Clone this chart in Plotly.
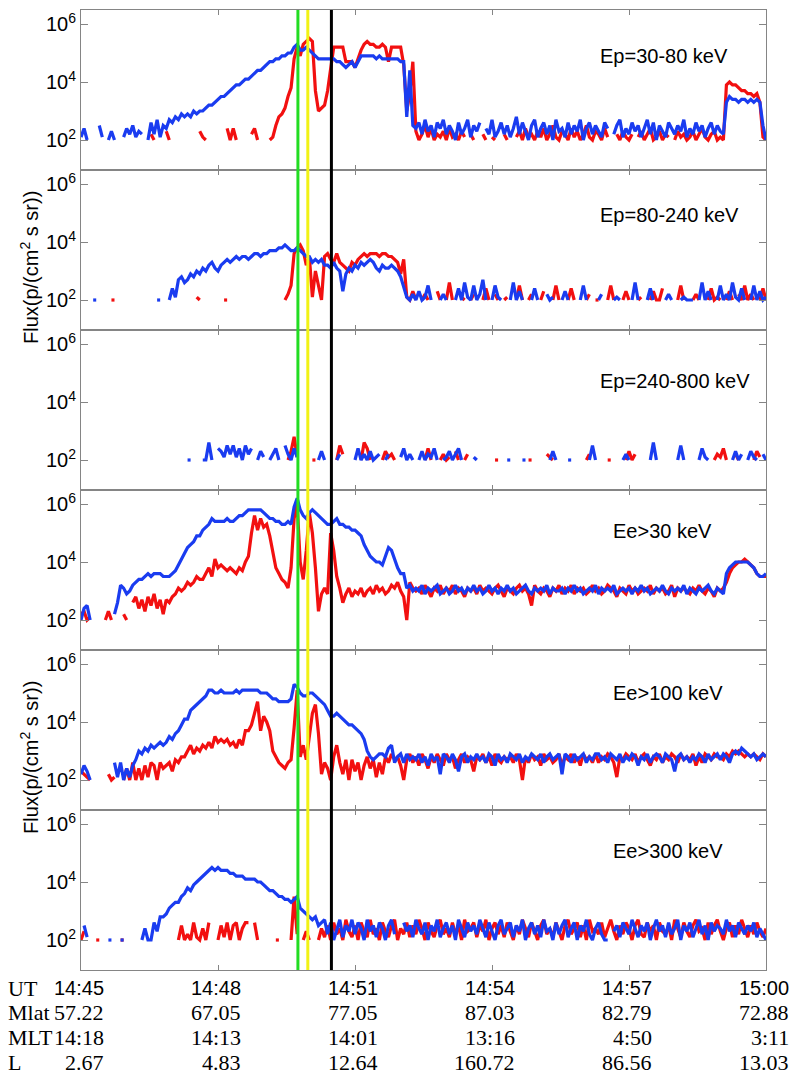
import plotly.graph_objects as go
from plotly.subplots import make_subplots

# ---------------- data (log10 flux in tenths of a decade, 0 = no data) ----------------
# sampling cadence: 4 s from 14:45:00 to 15:00:00
cadence_s = 4

ep1_red = [
 0,0,0,0,0,0,0,0,0,0,
 0,0,0,0,0,0,0,0,0,0,
 0,0,0,22,20,0,0,0,23,20,
 0,0,0,0,0,0,0,0,0,23,
 21,20,0,0,0,0,0,0,24,20,
 24,20,0,0,0,0,22,24,20,0,
 0,0,20,21,25,28,29,31,35,38,
 48,52,49,53,54,55,54,37,30,31,
 32,37,45,52,52,52,52,47,47,47,
 45,48,51,53,54,53,53,52,52,53,
 52,47,52,52,52,52,46,30,36,47,
 23,20,22,25,21,24,20,22,21,23,
 20,24,21,22,20,23,21,0,22,20,
 0,0,22,20,0,21,20,0,0,22,
 20,0,0,21,23,20,24,21,22,20,
 23,21,24,20,22,25,21,20,23,22,
 20,24,21,23,20,22,25,21,20,23,
 22,20,24,21,0,0,22,20,23,21,
 20,22,0,21,23,20,22,24,20,21,
 23,20,22,21,0,20,23,21,22,20,
 21,23,20,22,24,21,20,22,23,20,
 21,20,39,40,39,39,38,37,37,36,
 36,35,36,33,21,20]

ep1_blue = [
 21,24,20,0,0,0,25,21,0,20,
 23,20,0,0,21,24,22,25,21,23,
 22,0,20,26,22,27,21,25,24,27,
 26,28,27,29,28,29,28,30,29,30,
 30,31,32,32,33,34,35,35,36,37,
 38,39,39,40,41,41,42,43,44,44,
 45,46,47,47,48,48,49,49,50,50,
 52,53,51,51,52,51,50,49,48,48,
 48,48,48,48,47,47,46,45,46,47,
 45,47,49,49,49,49,49,48,49,48,
 48,48,48,48,48,47,47,28,44,25,
 24,26,22,27,23,25,21,26,24,27,
 22,25,23,20,26,22,24,27,21,25,
 23,26,0,24,22,27,21,23,26,22,
 25,21,24,28,22,26,23,20,25,27,
 21,24,26,22,25,20,27,23,24,21,
 26,22,25,23,27,20,24,26,22,25,
 23,21,26,24,0,22,25,27,21,24,
 22,26,23,25,21,24,27,22,26,20,
 25,23,21,26,24,22,25,23,27,21,
 24,22,26,23,25,21,24,26,22,25,
 23,22,33,35,34,34,33,34,34,33,
 34,33,34,33,25,20]

ep2_red = [
 0,0,0,0,0,0,0,0,0,0,
 20,20,0,0,0,0,0,0,0,0,
 0,0,0,0,0,0,0,0,0,0,
 0,0,0,0,0,0,0,0,21,20,
 0,0,0,0,0,0,0,20,20,0,
 0,0,0,0,0,0,0,0,0,0,
 0,0,0,0,0,0,0,20,22,25,
 36,38,39,37,32,35,21,30,25,20,
 35,36,34,33,36,33,32,31,30,33,
 32,34,35,36,35,36,36,36,35,36,
 36,35,35,34,33,29,34,21,20,23,
 20,0,20,22,20,0,0,23,20,0,
 20,26,20,0,0,21,20,0,20,22,
 0,0,20,24,20,0,22,20,0,20,
 21,0,0,20,25,20,0,20,22,0,
 0,20,23,0,0,20,25,20,0,0,
 20,24,20,0,0,0,20,22,0,20,
 20,0,0,20,25,20,0,0,20,23,
 20,0,0,20,21,0,0,20,23,20,
 20,24,0,0,20,0,20,25,20,0,
 0,20,22,20,0,0,20,24,20,21,
 20,0,20,23,20,0,22,20,25,20,
 22,20,0,20,24,20]

ep2_blue = [
 0,0,0,0,20,20,0,0,0,0,
 0,0,0,0,0,0,0,0,0,0,
 0,0,0,0,0,20,20,0,0,20,
 24,21,27,28,26,27,29,28,30,29,
 31,30,32,33,31,30,32,33,34,33,
 34,35,34,35,35,34,35,36,36,35,
 36,36,37,37,37,38,38,39,38,37,
 37,38,37,36,35,35,33,34,33,34,
 32,32,31,33,31,30,23,29,31,30,
 32,31,33,32,33,34,33,31,30,32,
 31,31,32,31,30,28,24,21,20,22,
 20,23,20,21,25,20,0,0,20,22,
 20,0,0,20,24,20,26,21,20,25,
 20,22,27,20,0,20,25,21,20,0,
 0,20,26,20,23,20,0,0,20,24,
 20,0,0,22,20,21,0,0,20,23,
 20,0,0,0,20,25,20,0,0,0,
 20,22,0,0,0,20,21,20,0,0,
 0,20,26,20,0,0,20,24,20,0,
 0,0,20,22,20,0,0,20,21,20,
 20,20,0,20,26,20,23,20,0,20,
 25,20,22,20,26,21,20,24,20,0,
 20,25,20,23,20,21]

ep3_red = [
 0,0,0,0,0,0,0,0,0,0,
 0,0,0,0,0,0,0,0,0,0,
 0,0,0,0,0,0,0,0,0,0,
 0,0,0,0,0,0,0,0,0,0,
 0,0,0,0,0,0,0,0,0,0,
 0,0,0,0,0,0,0,0,0,0,
 0,0,0,0,0,0,0,0,20,23,
 28,21,0,0,0,0,20,20,0,0,
 0,0,0,0,20,25,22,0,0,0,
 0,0,20,26,24,20,0,0,0,20,
 23,21,22,20,0,0,0,0,0,0,
 0,0,0,20,24,20,0,0,20,22,
 20,21,0,23,20,0,20,22,0,0,
 0,0,0,0,0,0,20,20,0,0,
 0,0,0,0,0,0,0,20,20,0,
 0,0,0,22,21,20,0,0,0,0,
 0,0,0,0,0,0,20,22,0,0,
 0,0,0,20,20,0,0,0,0,20,
 23,20,22,0,0,0,0,0,0,0,
 0,0,0,0,0,0,0,0,0,0,
 0,0,0,0,0,0,0,0,20,22,
 21,24,20,0,0,22,20,0,0,0,
 0,20,23,21,0,0]

ep3_blue = [
 0,0,0,0,0,0,0,0,0,0,
 0,0,0,0,0,0,0,0,0,0,
 0,0,0,0,0,0,0,0,0,0,
 0,0,0,0,0,20,20,0,0,0,
 20,20,26,20,0,24,23,21,25,22,
 25,21,24,20,25,22,24,0,20,23,
 21,0,20,22,24,20,0,25,22,20,
 24,21,0,0,20,0,0,0,20,23,
 20,0,0,0,20,22,0,0,0,0,
 20,24,20,22,20,23,20,21,22,0,
 20,22,0,0,0,21,24,20,22,20,
 0,20,23,20,22,21,24,20,0,20,
 21,23,20,22,24,20,0,0,0,21,
 20,0,0,0,20,0,0,0,0,0,
 20,20,0,0,0,20,20,0,0,0,
 0,0,0,0,20,23,20,0,0,0,
 20,20,0,0,0,0,0,20,25,20,
 0,0,0,0,0,0,0,0,20,22,
 20,0,0,0,0,0,0,20,26,20,
 0,0,0,0,0,0,20,25,20,0,
 0,0,0,20,24,21,20,0,0,0,
 0,0,0,0,20,23,20,22,0,20,
 23,21,20,0,22,20]

ee30_red = [
 22,23,20,21,0,0,0,0,20,23,
 20,0,0,0,22,20,0,26,28,24,
 27,23,28,25,29,24,27,22,27,26,
 28,29,31,30,31,33,32,33,35,34,
 34,36,38,35,41,38,39,38,37,38,
 37,36,38,37,40,42,50,56,51,55,
 52,53,49,44,38,36,34,33,31,38,
 55,60,40,34,44,57,50,38,23,29,
 31,29,50,44,35,31,26,29,31,28,
 30,29,31,28,30,31,29,32,30,31,
 29,30,32,31,33,30,28,20,33,31,
 30,31,29,32,30,28,31,30,32,29,
 31,30,32,29,31,30,28,31,30,31,
 29,32,30,31,30,29,31,32,30,28,
 31,30,29,31,32,30,31,29,25,32,
 30,29,31,30,28,31,30,32,29,31,
 30,32,29,31,30,31,29,30,32,30,
 31,29,30,32,31,30,28,31,30,29,
 32,30,31,29,30,31,30,32,29,31,
 30,31,29,30,32,28,31,30,31,30,
 29,31,30,32,30,29,31,30,28,31,
 30,31,33,36,38,39,40,40,41,40,
 39,38,36,35,35,35]

ee30_blue = [
 20,24,25,20,0,0,0,0,0,0,
 0,22,26,32,31,29,30,32,33,34,
 34,35,36,35,36,36,36,35,35,35,
 36,37,39,41,43,45,46,47,49,49,
 51,52,53,55,54,54,54,54,55,54,
 54,55,56,56,57,58,58,58,58,58,
 57,56,55,55,54,54,53,53,54,53,
 59,62,58,56,55,57,58,57,56,55,
 54,53,53,54,55,53,53,52,52,51,
 51,50,49,46,44,42,41,40,40,39,
 42,45,44,41,38,36,36,31,32,30,
 31,30,32,29,31,30,31,32,29,30,
 31,29,30,32,30,31,29,31,30,32,
 30,31,29,30,32,30,31,29,31,30,
 32,30,31,29,30,31,32,30,29,31,
 30,31,30,32,29,31,30,30,31,29,
 31,30,32,30,31,29,30,31,30,32,
 29,31,30,31,30,32,29,30,31,30,
 31,29,31,30,32,30,31,29,30,31,
 30,32,30,29,31,30,31,30,32,29,
 31,30,29,31,30,31,32,30,29,31,
 30,29,36,38,39,40,40,40,40,40,
 39,38,36,35,35,36]

ee100_red = [
 23,22,21,20,0,0,0,0,0,22,
 20,21,0,0,20,24,20,26,20,24,
 20,25,21,26,25,20,26,24,25,26,
 23,27,26,28,28,30,32,29,31,30,
 32,31,33,31,35,33,34,33,34,32,
 33,31,34,32,37,37,39,43,47,37,
 42,40,37,30,28,26,25,24,26,27,
 38,51,28,32,27,36,43,46,36,22,
 26,24,20,28,32,26,22,27,20,27,
 23,26,20,25,28,24,27,21,26,22,
 28,26,29,27,28,25,20,27,29,26,
 28,25,29,27,24,28,26,29,27,25,
 29,27,28,24,27,29,26,28,27,23,
 28,27,29,26,28,25,29,27,26,28,
 27,28,26,29,27,20,28,26,29,27,
 28,25,29,27,28,26,27,29,25,28,
 27,29,26,28,25,29,27,28,26,29,
 26,28,27,29,28,26,21,28,27,29,
 28,27,29,26,28,29,27,25,28,27,
 29,26,28,27,29,28,26,29,27,28,
 27,29,25,28,26,29,28,27,29,28,
 28,27,29,28,30,29,30,29,28,29,
 28,29,28,27,29,28]

ee100_blue = [
 22,25,23,20,0,0,0,0,0,0,
 0,26,21,26,20,24,21,25,27,30,
 29,31,30,32,31,32,33,32,33,35,
 34,36,37,39,41,41,44,45,46,47,
 48,49,51,51,50,50,51,50,50,50,
 50,51,50,51,51,51,51,51,51,50,
 50,50,49,48,48,47,47,47,47,48,
 53,52,50,49,49,50,50,49,48,47,
 46,44,42,42,43,42,41,40,39,39,
 38,37,36,34,30,28,27,28,29,29,
 28,31,32,26,28,29,26,29,27,28,
 27,29,26,28,25,29,27,28,22,29,
 28,26,29,27,23,28,29,26,28,27,
 29,27,28,26,29,28,25,29,27,28,
 26,29,28,27,29,26,28,27,29,28,
 27,29,26,28,29,27,28,29,22,29,
 28,26,29,27,28,29,26,28,27,29,
 29,27,28,26,29,28,27,29,26,28,
 27,29,28,25,28,27,29,26,28,29,
 28,26,29,28,27,23,28,29,27,28,
 26,28,27,29,28,26,29,27,28,29,
 27,29,28,26,29,30,29,31,30,29,
 28,29,27,28,29,28]

ee300_red = [
 20,23,0,0,0,20,20,0,0,0,
 0,0,0,20,20,0,0,0,0,0,
 0,0,0,0,0,0,0,0,0,0,
 0,0,20,25,20,22,20,26,21,20,
 24,20,26,0,0,20,25,21,26,20,
 25,26,20,24,26,26,0,26,20,0,
 0,0,0,0,20,20,0,0,0,20,
 35,22,0,20,23,20,0,0,20,24,
 21,25,20,26,22,24,20,27,23,21,
 25,20,26,23,21,27,22,24,20,26,
 23,21,25,27,20,24,22,26,21,25,
 22,27,24,20,26,23,21,25,27,22,
 24,21,26,22,25,20,27,23,24,26,
 21,25,23,27,20,24,26,22,25,21,
 26,23,20,25,22,27,24,21,26,23,
 20,25,27,22,24,21,26,23,20,25,
 27,22,24,26,21,25,20,27,23,24,
 22,26,21,24,27,23,20,25,22,26,
 24,20,25,27,22,21,26,23,25,20,
 26,23,22,25,20,27,24,21,26,23,
 21,25,27,23,24,20,26,22,25,27,
 23,20,24,26,21,25,22,27,24,21,
 25,22,26,23,21,24]

ee300_blue = [
 0,25,21,0,0,0,0,0,0,20,
 20,0,0,20,20,0,0,0,0,0,
 20,24,20,20,26,23,28,28,29,31,
 32,33,33,35,36,38,37,39,40,41,
 42,43,44,45,44,45,44,44,44,43,
 43,42,42,42,41,41,41,41,40,40,
 39,38,37,37,36,35,35,34,34,33,
 34,35,31,30,29,28,27,28,25,26,
 27,22,26,20,24,27,21,25,23,27,
 22,26,24,20,27,23,25,21,26,24,
 20,25,27,22,0,0,26,23,25,21,
 27,24,22,26,20,25,23,27,21,24,
 26,22,25,20,27,24,21,26,23,25,
 22,27,24,21,26,23,20,25,27,22,
 24,26,21,25,23,27,20,24,26,22,
 25,21,27,23,24,20,26,22,25,27,
 21,24,26,20,25,23,27,22,20,24,
 26,22,20,20,0,23,25,21,26,24,
 22,27,24,21,25,23,26,20,24,27,
 23,25,21,26,22,24,27,20,25,23,
 26,21,24,27,22,25,20,26,23,25,
 24,22,27,23,25,21,26,24,22,25,
 23,26,21,24,22,20]

panel_labels = ["Ep=30-80 keV", "Ep=80-240 keV", "Ep=240-800 keV",
                "Ee>30 keV", "Ee>100 keV", "Ee>300 keV"]
panels = [(ep1_red, ep1_blue), (ep2_red, ep2_blue), (ep3_red, ep3_blue),
          (ee30_red, ee30_blue), (ee100_red, ee100_blue), (ee300_red, ee300_blue)]

# event markers (seconds after 14:45:00)
marker_times = [285, 298, 329]
marker_colors = ["#22dd22", "#f2f215", "#000000"]

# bottom table
tick_seconds = [0, 180, 360, 540, 720, 900]
ut_labels = ["14:45", "14:48", "14:51", "14:54", "14:57", "15:00"]
mlat_labels = ["57.22", "67.05", "77.05", "87.03", "82.79", "72.88"]
mlt_labels = ["14:18", "14:13", "14:01", "13:16", "4:50", "3:11"]
l_labels = ["2.67", "4.83", "12.64", "160.72", "86.56", "13.03"]
row_names = ["UT", "Mlat", "MLT", "L"]

# ---------------- figure ----------------
W, H = 798, 1074
ML, MR, MT, MB = 81, 32, 10, 104
PW, PH = W - ML - MR, H - MT - MB

RED = "#f21010"
BLUE = "#1a3cf0"
FRAME = "#858585"
SANS = "Liberation Sans, Arial, Helvetica, sans-serif"
SERIF = "Liberation Serif, Times New Roman, serif"

fig = make_subplots(rows=6, cols=1, shared_xaxes=True, vertical_spacing=0)


def to_flux(vals):
    return [10 ** (v / 10.0) if v > 0 else None for v in vals]


for k, (red, blue) in enumerate(panels):
    for vals, col in ((red, RED), (blue, BLUE)):
        fig.add_trace(go.Scatter(
            x=[cadence_s * i for i in range(len(vals))],
            y=to_flux(vals),
            mode="lines", line=dict(color=col, width=3.2),
            connectgaps=False, showlegend=False, hoverinfo="skip"),
            row=k + 1, col=1)

for k in range(6):
    fig.update_yaxes(
        type="log", range=[0.966, 6.483],
        tickvals=[1e2, 1e4, 1e6],
        ticktext=["10<sup>2</sup>", "10<sup>4</sup>", "10<sup>6</sup>"],
        ticks="inside", ticklen=7, tickcolor=FRAME, tickwidth=1,
        showline=True, linecolor=FRAME, linewidth=1, mirror="ticks",
        showgrid=False, zeroline=False,
        tickfont=dict(family=SANS, size=20, color="black"),
        row=k + 1, col=1)
    fig.update_xaxes(
        range=[0, 900], tickvals=tick_seconds[1:-1],
        ticks="inside", ticklen=5, tickcolor=FRAME, tickwidth=1,
        showticklabels=False,
        showline=True, linecolor=FRAME, linewidth=1, mirror="ticks",
        showgrid=False, zeroline=False,
        row=k + 1, col=1)

for t, c in zip(marker_times, marker_colors):
    fig.add_shape(type="line", xref="x", yref="paper", x0=t, x1=t, y0=0, y1=1,
                  line=dict(color=c, width=3), layer="above")


def py(ypx):
    return (H - MB - ypx) / PH


def px(xpx):
    return (xpx - ML) / PW


label_y_px = [56, 215, 381, 531, 693, 851]
label_x_px = [598, 598, 598, 611, 611, 611]
annotations = []
for txt, yp, xp in zip(panel_labels, label_y_px, label_x_px):
    annotations.append(dict(text=txt, xref="paper", yref="paper", x=px(xp), y=py(yp),
                            xanchor="left", yanchor="middle", showarrow=False,
                            font=dict(family=SANS, size=20, color="black")))

for yp in (268, 758):
    annotations.append(dict(text="Flux(p/(cm<sup>2</sup> s sr))", xref="paper", yref="paper",
                            x=px(29), y=py(yp), xanchor="center", yanchor="middle",
                            textangle=-90, showarrow=False,
                            font=dict(family=SANS, size=20, color="black")))

row_y_px = [988, 1012, 1037, 1062]
rows = [ut_labels, mlat_labels, mlt_labels, l_labels]
for r, (name, labels, yp) in enumerate(zip(row_names, rows, row_y_px)):
    annotations.append(dict(text=name, xref="paper", yref="paper", x=px(6), y=py(yp),
                            xanchor="left", yanchor="middle", showarrow=False,
                            font=dict(family=SERIF, size=22, color="black")))
    fam, size = (SANS, 20) if r == 0 else (SERIF, 22)
    for t, lab in zip(tick_seconds, labels):
        annotations.append(dict(text=lab, xref="x", yref="paper", x=t, y=py(yp),
                                xanchor="right", yanchor="middle", xshift=25,
                                showarrow=False,
                                font=dict(family=fam, size=size, color="black")))

fig.update_layout(
    width=W, height=H,
    margin=dict(l=ML, r=MR, t=MT, b=MB, pad=0),
    paper_bgcolor="white", plot_bgcolor="white",
    annotations=annotations,
    showlegend=False,
)

fig.write_html("out.html")
